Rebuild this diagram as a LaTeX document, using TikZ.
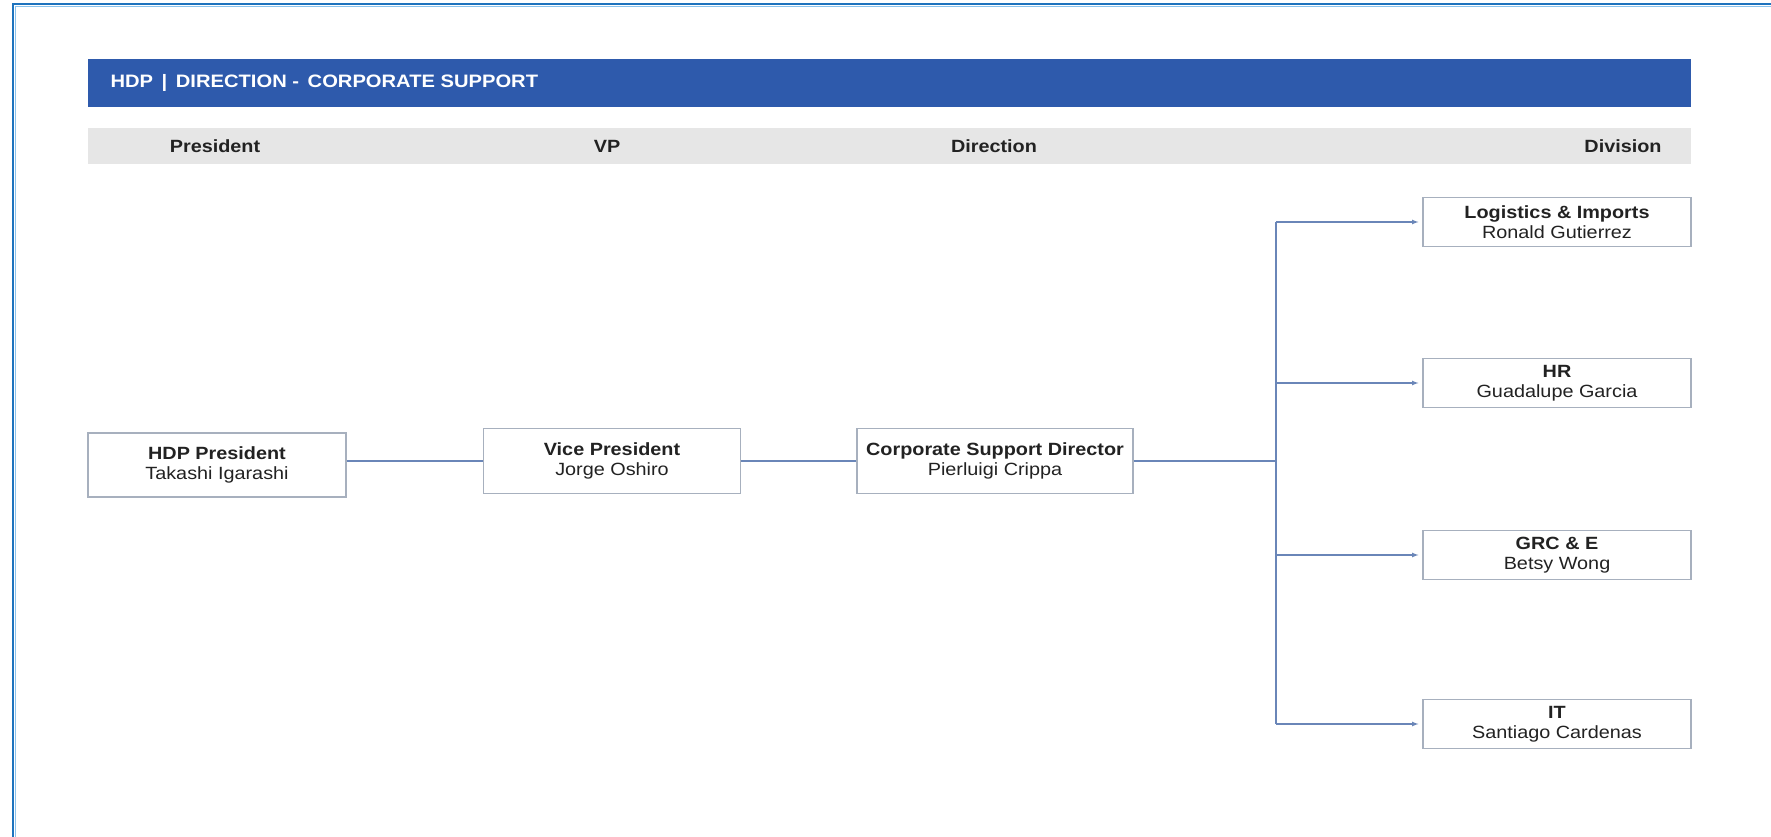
\documentclass[tikz,border=0pt]{standalone}
\usepackage{fontspec}
\setmainfont{Liberation Sans}[FakeStretch=1.12]
\usepackage{xcolor}
\usepackage{tikz}
\usetikzlibrary{arrows}
\usetikzlibrary{calc}

\definecolor{hdpblue}{HTML}{2E5AAC}
\definecolor{bandgray}{HTML}{E6E6E6}
\definecolor{boxgray}{HTML}{A7B0BE}
\definecolor{linkblue}{HTML}{6A86B8}
\definecolor{frameblue}{HTML}{1E73BE}
\definecolor{framelight}{HTML}{8CC3EC}
\definecolor{txt}{HTML}{222222}

\begin{document}
\begin{tikzpicture}[x=1pt,y=-1pt,
  orgbox/.style={draw=boxgray,line width=1.2pt,fill=white,align=center,text=txt,inner sep=0pt,
    font=\fontsize{17.7}{20}\selectfont},
  divbox/.style={orgbox,minimum width=268pt,minimum height=49pt},
  colhead/.style={text=txt,font=\bfseries\fontsize{17.7}{20}\selectfont},
  link/.style={draw=linkblue,line width=1.2pt}]
\useasboundingbox[fill=white] (0,0) rectangle (1771,837);
% frame
\draw[frameblue,line width=2.5pt] (13,837) -- (13,4) -- (1771,4);
\draw[framelight,line width=1pt] (15.5,837) -- (15.5,6.5) -- (1771,6.5);
% title band and column band
\fill[hdpblue] (88,59) rectangle (1691,107);
\node[anchor=west,text=white,font=\bfseries\fontsize{18}{20}\selectfont] (title) at (107,83) {HDP \,|\, DIRECTION -\, CORPORATE SUPPORT};
\fill[bandgray] (88,128) rectangle (1691,164);
\foreach \x/\name/\txt in {215/hpres/President, 607/hvp/VP, 994/hdir/Direction, 1623/hdiv/Division}
    \node[colhead] (\name) at (\x,146) {\txt};
% chain
\node[orgbox,minimum width=258pt,minimum height=64pt] (pres) at (217,465) {\textbf{HDP President}\\Takashi Igarashi};
\node[orgbox,minimum width=257pt,minimum height=65pt] (vp) at (612,461) {\textbf{Vice President}\\Jorge Oshiro};
\node[orgbox,minimum width=276pt,minimum height=65pt] (dir) at (995,461) {\textbf{Corporate Support Director}\\Pierluigi Crippa};
% divisions
\node[divbox] (logi) at (1557,222) {\textbf{Logistics \& Imports}\\Ronald Gutierrez};
\node[divbox] (hr) at (1557,383) {\textbf{HR}\\Guadalupe Garcia};
\node[divbox] (grc) at (1557,555) {\textbf{GRC \& E}\\Betsy Wong};
\node[divbox] (it) at (1557,724) {\textbf{IT}\\Santiago Cardenas};
\coordinate (trunk) at (1276,461);
\draw[link] (vp.west -| pres.east) -- (vp.west);
\draw[link] (vp.east) -- (dir.west);
\draw[link] (dir.east) -- (trunk);
\draw[link] (logi.west -| trunk) -- (it.west -| trunk);
\foreach \d in {logi, hr, grc, it}
    \draw[link,-latex,shorten >=4pt] (\d.west -| trunk) -- (\d.west);
\end{tikzpicture}
\end{document}
